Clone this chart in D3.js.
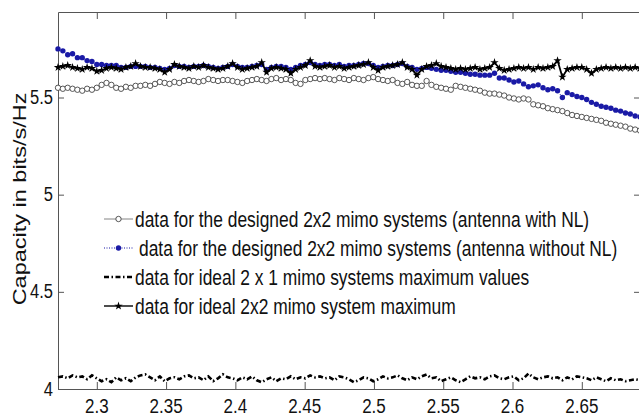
<!DOCTYPE html>
<html>
<head>
<meta charset="utf-8">
<script src="https://cdn.jsdelivr.net/npm/d3@7"></script>
<style>
  html, body { margin: 0; padding: 0; background: #fff; }
  svg { display: block; font-family: "Liberation Sans", Arial, sans-serif; }
</style>
</head>
<body>
<svg id="chart" width="639" height="416"></svg>
<script>
// ---------- data ----------
const freqStart = 2.272;
const freqStep = 0.0035;

const xTickValues = [2.3, 2.35, 2.4, 2.45, 2.5, 2.55, 2.6, 2.65];
const xTickLabels = ["2.3", "2.35", "2.4", "2.45", "2.5", "2.55", "2.6", "2.65"];
const yTickValues = [4, 4.5, 5, 5.5];
const yTickLabels = ["4", "4.5", "5", "5.5"];

const seriesNames = [
  "data for the designed 2x2 mimo systems (antenna with NL)",
  "data for the designed 2x2 mimo systems (antenna without NL)",
  "data for ideal 2 x 1 mimo systems maximum values",
  "data for ideal 2x2 mimo system maximum"
];

const withNL = [
  5.55, 5.545, 5.55, 5.545, 5.54, 5.535, 5.545, 5.54, 5.55, 5.565,
  5.575, 5.565, 5.55, 5.545, 5.555, 5.55, 5.56, 5.56, 5.565, 5.56,
  5.57, 5.58, 5.575, 5.57, 5.58, 5.575, 5.585, 5.59, 5.585, 5.58,
  5.585, 5.595, 5.59, 5.585, 5.59, 5.59, 5.585, 5.58, 5.575, 5.585,
  5.59, 5.595, 5.59, 5.585, 5.595, 5.6, 5.59, 5.595, 5.59, 5.575,
  5.57, 5.59, 5.595, 5.6, 5.595, 5.6, 5.595, 5.59, 5.6, 5.595,
  5.59, 5.6, 5.595, 5.59, 5.6, 5.605, 5.595, 5.59, 5.585, 5.59,
  5.575, 5.57, 5.58, 5.565, 5.56, 5.56, 5.585, 5.565, 5.555, 5.55,
  5.545, 5.54, 5.56, 5.555, 5.55, 5.545, 5.54, 5.535, 5.525, 5.52,
  5.52, 5.515, 5.51, 5.5, 5.495, 5.49, 5.495, 5.49, 5.465, 5.46,
  5.455, 5.445, 5.44, 5.435, 5.43, 5.42, 5.41, 5.405, 5.4, 5.395,
  5.39, 5.385, 5.38, 5.37, 5.365, 5.36, 5.355, 5.35, 5.34, 5.335,
  5.33
];

const withoutNL = [
  5.75, 5.74, 5.72, 5.725, 5.705, 5.705, 5.69, 5.685, 5.67, 5.67,
  5.665, 5.665, 5.665, 5.655, 5.655, 5.66, 5.66, 5.66, 5.66, 5.655,
  5.655, 5.65, 5.645, 5.65, 5.665, 5.66, 5.66, 5.655, 5.66, 5.66,
  5.665, 5.66, 5.655, 5.65, 5.655, 5.66, 5.67, 5.66, 5.655, 5.655,
  5.66, 5.665, 5.67, 5.645, 5.655, 5.66, 5.66, 5.655, 5.645, 5.655,
  5.665, 5.67, 5.68, 5.67, 5.665, 5.67, 5.67, 5.665, 5.67, 5.66,
  5.665, 5.665, 5.67, 5.675, 5.675, 5.665, 5.655, 5.66, 5.665, 5.665,
  5.67, 5.675, 5.66, 5.655, 5.645, 5.65, 5.655, 5.65, 5.645, 5.64,
  5.64, 5.635, 5.63, 5.63, 5.625, 5.62, 5.62, 5.615, 5.615, 5.615,
  5.625, 5.6, 5.6, 5.59, 5.58, 5.585, 5.57, 5.555, 5.56, 5.565,
  5.55, 5.54, 5.545, 5.535, 5.5, 5.525, 5.515, 5.505, 5.5, 5.49,
  5.475, 5.465, 5.455, 5.45, 5.445, 5.435, 5.43, 5.42, 5.415, 5.405,
  5.4
];

const ideal2x1 = [
  4.06, 4.065, 4.055, 4.07, 4.06, 4.065, 4.05, 4.07, 4.055, 4.04,
  4.05, 4.035, 4.06, 4.045, 4.055, 4.04, 4.06, 4.07, 4.075, 4.06,
  4.045, 4.065, 4.04, 4.055, 4.06, 4.05, 4.065, 4.07, 4.055, 4.06,
  4.045, 4.065, 4.04, 4.055, 4.075, 4.06, 4.055, 4.045, 4.06, 4.05,
  4.065, 4.045, 4.035, 4.05, 4.06, 4.04, 4.055, 4.05, 4.065, 4.05,
  4.06, 4.055, 4.07, 4.06, 4.065, 4.055, 4.06, 4.045, 4.065, 4.06,
  4.05, 4.035, 4.045, 4.06, 4.055, 4.04, 4.05, 4.065, 4.055, 4.06,
  4.07, 4.055, 4.045, 4.06, 4.05, 4.065, 4.075, 4.055, 4.06, 4.04,
  4.05, 4.06, 4.045, 4.035, 4.05, 4.065, 4.055, 4.06, 4.05, 4.065,
  4.07, 4.055, 4.05, 4.06, 4.065, 4.045, 4.055, 4.08, 4.06, 4.05,
  4.06, 4.065, 4.055, 4.06, 4.045, 4.06, 4.05, 4.065, 4.06, 4.055,
  4.045, 4.06, 4.05, 4.04, 4.055, 4.045, 4.05, 4.04, 4.045, 4.05,
  4.045
];

const ideal2x2 = [
  5.655, 5.66, 5.665, 5.655, 5.65, 5.645, 5.655, 5.65, 5.635, 5.64,
  5.65, 5.655, 5.65, 5.645, 5.655, 5.66, 5.675, 5.66, 5.655, 5.655,
  5.65, 5.645, 5.63, 5.645, 5.67, 5.66, 5.655, 5.65, 5.66, 5.655,
  5.665, 5.655, 5.65, 5.645, 5.65, 5.66, 5.675, 5.655, 5.645, 5.65,
  5.655, 5.66, 5.68, 5.63, 5.65, 5.655, 5.65, 5.645, 5.625, 5.645,
  5.655, 5.665, 5.69, 5.66, 5.655, 5.66, 5.665, 5.655, 5.66, 5.65,
  5.655, 5.66, 5.665, 5.67, 5.68, 5.655, 5.64, 5.655, 5.66, 5.665,
  5.67, 5.68, 5.655, 5.645, 5.615, 5.645, 5.66, 5.665, 5.675, 5.66,
  5.655, 5.65, 5.645, 5.65, 5.645, 5.65, 5.655, 5.645, 5.65, 5.655,
  5.68, 5.65, 5.64, 5.645, 5.65, 5.655, 5.65, 5.655, 5.645, 5.655,
  5.65, 5.655, 5.66, 5.69, 5.605, 5.645, 5.65, 5.655, 5.655, 5.645,
  5.625, 5.645, 5.65, 5.655, 5.65, 5.655, 5.65, 5.655, 5.65, 5.655,
  5.65
];

(function () {
const freqs = d3.range(withNL.length).map(i => +(freqStart + i * freqStep).toFixed(4));

// ---------- layout ----------
const svg = d3.select("#chart");
const mLeft = 58, mRight = 640, mTop = 12, mBottom = 389;

const x = d3.scaleLinear().domain([2.272, 2.692]).range([mLeft, mRight]);
const y = d3.scaleLinear().domain([4, 5.94]).range([mBottom, mTop]);

const axisColor = "#555";
const txtColor = "#111";

function styleAxis(g) {
  g.selectAll("path.domain").attr("stroke", axisColor).attr("stroke-width", 1);
  g.selectAll(".tick line").attr("stroke", axisColor).attr("stroke-width", 1);
  g.selectAll(".tick text").remove();
}
svg.append("g").attr("transform", `translate(0,${mBottom})`)
  .call(d3.axisBottom(x).tickValues(xTickValues).tickSizeInner(-7).tickSizeOuter(0)).call(styleAxis);
svg.append("g").attr("transform", `translate(0,${mTop})`)
  .call(d3.axisTop(x).tickValues(xTickValues).tickSizeInner(-7).tickSizeOuter(0)).call(styleAxis);
svg.append("g").attr("transform", `translate(${mLeft},0)`)
  .call(d3.axisLeft(y).tickValues(yTickValues).tickSizeInner(-6).tickSizeOuter(0)).call(styleAxis);
svg.append("g").attr("transform", `translate(${mRight},0)`)
  .call(d3.axisRight(y).tickValues(yTickValues).tickSizeInner(-6).tickSizeOuter(0)).call(styleAxis);

// tick labels (narrow-looking text: normal width, stretched vertically)
svg.append("g").selectAll("text").data(xTickValues).join("text")
  .attr("transform", d => `translate(${x(d)},413) scale(1,1.24)`)
  .attr("text-anchor", "middle").attr("font-size", 17).attr("fill", txtColor)
  .text((d, i) => xTickLabels[i]);

svg.append("g").selectAll("text").data(yTickValues).join("text")
  .attr("transform", d => `translate(53,${y(d) + 6.5}) scale(1,1.22)`)
  .attr("text-anchor", "end").attr("font-size", 16.5).attr("fill", txtColor)
  .text((d, i) => yTickLabels[i]);

// y title
svg.append("text")
  .attr("transform", "translate(26,199) rotate(-90) scale(1,0.8)")
  .attr("text-anchor", "middle").attr("font-size", 23.5).attr("fill", txtColor)
  .text("Capacity in bits/s/Hz");

// ---------- series ----------
const plot = svg.append("g");
const line = vals => d3.line().x((d, i) => x(freqs[i])).y(d => y(d))(vals);

plot.append("path").attr("d", line(withNL)).attr("fill", "none")
  .attr("stroke", "#666").attr("stroke-width", 0.8);
plot.append("g").selectAll("circle").data(withNL).join("circle")
  .attr("cx", (d, i) => x(freqs[i])).attr("cy", d => y(d)).attr("r", 2.7)
  .attr("fill", "#fff").attr("stroke", "#444").attr("stroke-width", 0.9);

const blue = "#1a1aa6";
plot.append("path").attr("d", line(withoutNL)).attr("fill", "none")
  .attr("stroke", blue).attr("stroke-width", 1).attr("stroke-dasharray", "1,2");
plot.append("g").selectAll("circle").data(withoutNL).join("circle")
  .attr("cx", (d, i) => x(freqs[i])).attr("cy", d => y(d)).attr("r", 2.7)
  .attr("fill", blue);

plot.append("path").attr("d", line(ideal2x1)).attr("fill", "none")
  .attr("stroke", "#000").attr("stroke-width", 2.6).attr("stroke-dasharray", "5,2.5,1.5,2.5");

plot.append("path").attr("d", line(ideal2x2)).attr("fill", "none")
  .attr("stroke", "#000").attr("stroke-width", 1.8);
const markSym = d3.symbol().type(d3.symbolStar).size(22);
plot.append("g").selectAll("path").data(ideal2x2).join("path")
  .attr("transform", (d, i) => `translate(${x(freqs[i])},${y(d)})`)
  .attr("d", markSym).attr("fill", "#000");

// ---------- legend ----------
const legend = svg.append("g");
const rowBase = [227, 256, 285, 314];
const sx0 = 104, sx1 = 133;
seriesNames.forEach((name, k) => {
  const cy = rowBase[k] - 8;
  const g = legend.append("g");
  if (k === 0) {
    g.append("line").attr("x1", sx0).attr("x2", sx1).attr("y1", cy).attr("y2", cy)
      .attr("stroke", "#666").attr("stroke-width", 0.8);
    g.append("circle").attr("cx", (sx0 + sx1) / 2).attr("cy", cy).attr("r", 2.7)
      .attr("fill", "#fff").attr("stroke", "#444").attr("stroke-width", 0.9);
  } else if (k === 1) {
    g.append("line").attr("x1", sx0).attr("x2", sx1).attr("y1", cy).attr("y2", cy)
      .attr("stroke", blue).attr("stroke-width", 1.2).attr("stroke-dasharray", "1,1.5");
    g.append("circle").attr("cx", (sx0 + sx1) / 2).attr("cy", cy).attr("r", 2.7).attr("fill", blue);
  } else if (k === 2) {
    g.append("line").attr("x1", sx0).attr("x2", sx1).attr("y1", cy).attr("y2", cy)
      .attr("stroke", "#000").attr("stroke-width", 2.4).attr("stroke-dasharray", "5,2.5,1.5,2.5");
  } else {
    g.append("line").attr("x1", sx0).attr("x2", sx1).attr("y1", cy).attr("y2", cy)
      .attr("stroke", "#000").attr("stroke-width", 1.4);
    g.append("path").attr("transform", `translate(${(sx0 + sx1) / 2},${cy})`)
      .attr("d", markSym).attr("fill", "#000");
  }
  g.append("text")
    .attr("transform", `translate(${k === 1 ? 139 : 135},${rowBase[k]}) scale(1,1.22)`)
    .attr("font-size", 17.4).attr("fill", txtColor).text(name);
});
})();
</script>
</body>
</html>
